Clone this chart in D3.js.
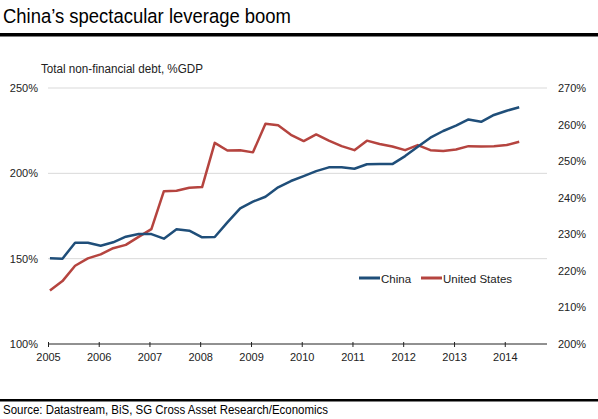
<!DOCTYPE html>
<html>
<head>
<meta charset="utf-8">
<script src="https://cdn.jsdelivr.net/npm/d3@7"></script>
<style>
  html, body { margin: 0; padding: 0; background: #fff; }
  svg { display: block; font-family: "Liberation Sans", Arial, sans-serif; }
</style>
</head>
<body>
<svg id="chart" width="598" height="419"></svg>
<script>
// ---- Data (quarterly, 2005 Q1 .. 2014 Q2) ----
const seriesNames = ["China", "United States"];
const quarterMonths = [0, 3, 6, 9];
const china = [150.2, 150.0, 159.3, 159.3, 157.6, 159.6, 162.9, 164.4,
               164.4, 161.7, 167.2, 166.4, 162.5, 162.7, 171.3, 179.5,
               183.4, 186.3, 191.8, 195.5, 198.4, 201.3, 203.5, 203.5,
               202.7, 205.3, 205.4, 205.4, 210.1, 215.6, 220.9, 224.8,
               227.9, 231.6, 230.2, 234.2, 236.7, 238.7];
const unitedStates = [214.6, 217.2, 221.4, 223.4, 224.5, 226.2, 227.1, 229.3,
                      231.4, 241.8, 241.9, 242.7, 242.9, 255.0, 252.9, 253.0,
                      252.4, 260.2, 259.8, 257.2, 255.5, 257.3, 255.6, 254.1,
                      253.0, 255.6, 254.7, 254.0, 253.0, 254.4, 253.0, 252.8,
                      253.2, 254.1, 254.0, 254.1, 254.4, 255.3];
const yearTicks = [2005, 2006, 2007, 2008, 2009, 2010, 2011, 2012, 2013, 2014];
const leftTicks = [100, 150, 200, 250];
const rightTicks = [200, 210, 220, 230, 240, 250, 260, 270];
const dates = china.map((_, i) => new Date(2005 + Math.floor(i / 4), quarterMonths[i % 4], 15));

const title = "China\u2019s spectacular leverage boom";
const subtitle = "Total non-financial debt, %GDP";
const source = "Source: Datastream, BiS, SG Cross Asset Research/Economics";

// ---- Layout ----
const svg = d3.select("#chart");
const W = 598;
const colChina = "#1f4e79";
const colUS = "#b5443f";
const FONT = "Liberation Sans, Arial, sans-serif";

const x = d3.scaleTime()
  .domain([new Date(2005, 0, 1), new Date(2014, 10, 1)])
  .range([48, 547]);
const yL = d3.scaleLinear().domain([100, 250]).range([344, 88]);
const yR = d3.scaleLinear().domain([200, 270]).range([344, 88]);

// Title and rules
svg.append("text").attr("x", 3).attr("y", 23)
  .attr("font-size", 20.5).attr("fill", "#000")
  .attr("textLength", 288).attr("lengthAdjust", "spacingAndGlyphs").text(title);
svg.append("rect").attr("x", 0).attr("y", 33).attr("width", W).attr("height", 3.5).attr("fill", "#000");
svg.append("text").attr("x", 41).attr("y", 73)
  .attr("font-size", 12.5).attr("fill", "#222")
  .attr("textLength", 162).attr("lengthAdjust", "spacingAndGlyphs").text(subtitle);

// Gridlines
svg.append("g").selectAll("line").data(leftTicks.filter(d => d > 100)).join("line")
  .attr("x1", 48).attr("x2", 547)
  .attr("y1", d => yL(d)).attr("y2", d => yL(d))
  .attr("stroke", "#d9d9d9").attr("stroke-width", 1);

// Left axis labels
const gL = svg.append("g").attr("transform", "translate(38,0)")
  .call(d3.axisLeft(yL).tickValues(leftTicks).tickSize(0).tickPadding(0).tickFormat(d => d + "%"));
gL.select(".domain").remove();
gL.selectAll("text").attr("font-size", 11).attr("fill", "#222").attr("font-family", FONT);

// Right axis labels
const gR = svg.append("g").attr("transform", "translate(558,0)")
  .call(d3.axisRight(yR).tickValues(rightTicks).tickSize(0).tickPadding(0).tickFormat(d => d + "%"));
gR.select(".domain").remove();
gR.selectAll("text").attr("font-size", 11).attr("fill", "#222").attr("font-family", FONT);

// Bottom axis
const gX = svg.append("g").attr("transform", "translate(0,344)")
  .call(d3.axisBottom(x).tickValues(yearTicks.map(y => new Date(y, 0, 1)))
    .tickSize(3).tickPadding(6).tickFormat(d3.timeFormat("%Y")));
gX.select(".domain").attr("d", "M48,0H547").attr("stroke", "#222");
gX.selectAll(".tick line").attr("y1", -2).attr("y2", 3).attr("stroke", "#222");
gX.selectAll("text").attr("font-size", 11).attr("fill", "#222").attr("font-family", FONT);

// Lines
const lineL = d3.line().x((d, i) => x(dates[i])).y(d => yL(d));
const lineR = d3.line().x((d, i) => x(dates[i])).y(d => yR(d));
svg.append("path").datum(unitedStates).attr("d", lineR)
  .attr("fill", "none").attr("stroke", colUS).attr("stroke-width", 2.5).attr("stroke-linejoin", "round");
svg.append("path").datum(china).attr("d", lineL)
  .attr("fill", "none").attr("stroke", colChina).attr("stroke-width", 2.5).attr("stroke-linejoin", "round");

// Legend
const legend = [
  { name: seriesNames[0], color: colChina, x: 359 },
  { name: seriesNames[1], color: colUS, x: 421 }
];
const lg = svg.append("g");
legend.forEach(l => {
  lg.append("line").attr("x1", l.x).attr("x2", l.x + 21).attr("y1", 278).attr("y2", 278)
    .attr("stroke", l.color).attr("stroke-width", 3);
  lg.append("text").attr("x", l.x + 22).attr("y", 282.5)
    .attr("font-size", 11.5).attr("fill", "#222").text(l.name);
});

// Bottom rule and source
svg.append("rect").attr("x", 0).attr("y", 399).attr("width", W).attr("height", 2.5).attr("fill", "#000");
svg.append("text").attr("x", 3).attr("y", 414)
  .attr("font-size", 12.5).attr("fill", "#000")
  .attr("textLength", 325).attr("lengthAdjust", "spacingAndGlyphs").text(source);
</script>
</body>
</html>
